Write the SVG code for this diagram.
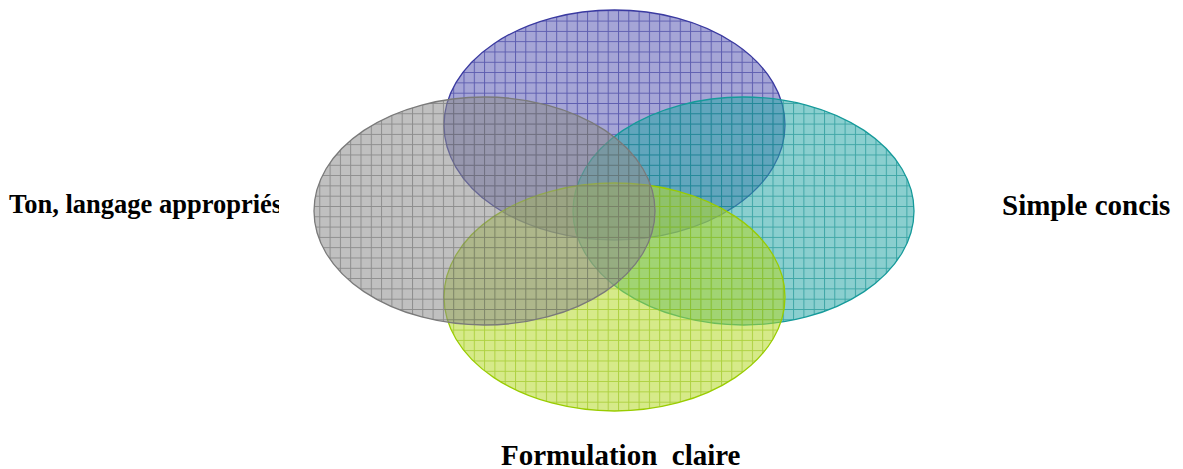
<svg xmlns="http://www.w3.org/2000/svg" width="1183" height="469" viewBox="0 0 1183 469">
<defs>
<pattern id="pBlue" patternUnits="userSpaceOnUse" width="10.3" height="10.3">
<rect width="10.3" height="10.3" fill="#5a5ab4" fill-opacity="0.55"/>
<path d="M0 0.5H10.3M0.5 0V10.3" stroke="#2e2e96" stroke-opacity="0.6" stroke-width="1"/>
</pattern>
<pattern id="pTeal" patternUnits="userSpaceOnUse" width="10.3" height="10.3">
<rect width="10.3" height="10.3" fill="#2aa8a8" fill-opacity="0.55"/>
<path d="M0 0.5H10.3M0.5 0V10.3" stroke="#0e8a8a" stroke-opacity="0.6" stroke-width="1"/>
</pattern>
<pattern id="pGray" patternUnits="userSpaceOnUse" width="10.3" height="10.3">
<rect width="10.3" height="10.3" fill="#8c8c8c" fill-opacity="0.55"/>
<path d="M0 0.5H10.3M0.5 0V10.3" stroke="#6a6a6a" stroke-opacity="0.6" stroke-width="1"/>
</pattern>
<pattern id="pGreen" patternUnits="userSpaceOnUse" width="10.3" height="10.3">
<rect width="10.3" height="10.3" fill="#b4d828" fill-opacity="0.55"/>
<path d="M0 0.5H10.3M0.5 0V10.3" stroke="#92c010" stroke-opacity="0.6" stroke-width="1"/>
</pattern>
<clipPath id="clipLeft"><rect x="0" y="170" width="279" height="60"/></clipPath>
</defs>
<style>
.lbl{font-family:"Liberation Serif","Times New Roman",serif;font-weight:bold;fill:#000}
.ell{stroke-width:1.3}
</style>
<g id="node-blue"><ellipse class="ell" cx="614.5" cy="125" rx="170.5" ry="115" fill="url(#pBlue)" stroke="#3a3aa0"/></g>
<g id="node-teal"><ellipse class="ell" cx="743.5" cy="211" rx="170.5" ry="114" fill="url(#pTeal)" stroke="#159a9a"/></g>
<g id="node-green"><ellipse class="ell" cx="614.5" cy="297" rx="170.5" ry="114" fill="url(#pGreen)" stroke="#99cc00"/></g>
<g id="node-gray"><ellipse class="ell" cx="484.5" cy="211" rx="170.5" ry="114" fill="url(#pGray)" stroke="#7a7a7a"/></g>
<g id="connectors"></g>
<g id="label-left" clip-path="url(#clipLeft)"><text class="lbl" x="9" y="213" font-size="26.5">Ton, langage appropriés</text></g>
<g id="label-right"><text class="lbl" x="1002" y="215" font-size="29">Simple concis</text></g>
<g id="label-bottom"><text class="lbl" x="501" y="465" font-size="29" xml:space="preserve">Formulation  claire</text></g>
</svg>
